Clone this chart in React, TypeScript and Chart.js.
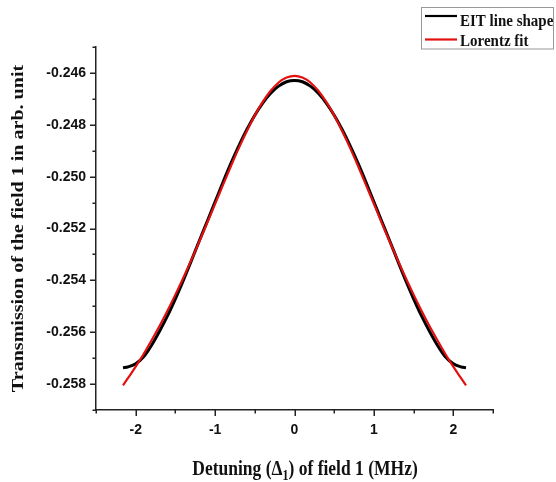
import React, { useEffect, useRef } from 'react';
import { Chart, registerables } from 'chart.js';

Chart.register(...registerables);

// Detuning (MHz)
const detuning = [
  -2.16, -2.1, -2.0, -1.9, -1.8, -1.7, -1.6, -1.5, -1.4, -1.3, -1.2, -1.1, -1.0,
  -0.9, -0.8, -0.7, -0.6, -0.5, -0.4, -0.3, -0.2, -0.1, 0,
  0.1, 0.2, 0.3, 0.4, 0.5, 0.6, 0.7, 0.8, 0.9, 1.0, 1.1, 1.2, 1.3, 1.4, 1.5,
  1.6, 1.7, 1.8, 1.9, 2.0, 2.1, 2.16,
];

// EIT line shape (black)
const eitLineShape = [
  -0.25737, -0.25734, -0.25722, -0.25695, -0.2565, -0.25596, -0.25537, -0.25471,
  -0.254, -0.25325, -0.25248, -0.25173, -0.25097, -0.25021, -0.24948, -0.2488,
  -0.24818, -0.24763, -0.24716, -0.24678, -0.24651, -0.24634, -0.24629,
  -0.24634, -0.24651, -0.24678, -0.24716, -0.24763, -0.24818, -0.2488, -0.24948,
  -0.25021, -0.25097, -0.25173, -0.25248, -0.25325, -0.254, -0.25471, -0.25537,
  -0.25596, -0.2565, -0.25695, -0.25722, -0.25734, -0.25737,
];

// Lorentz fit (red)
const lorentzFit = [
  -0.25805, -0.25778, -0.25733, -0.25684, -0.25631, -0.25576, -0.25517, -0.25455,
  -0.2539, -0.25322, -0.25251, -0.25179, -0.25105, -0.25032, -0.24959, -0.24889,
  -0.24824, -0.24764, -0.24712, -0.24669, -0.24637, -0.24618, -0.24611,
  -0.24618, -0.24637, -0.24669, -0.24712, -0.24764, -0.24824, -0.24889, -0.24959,
  -0.25032, -0.25105, -0.25179, -0.25251, -0.25322, -0.2539, -0.25455, -0.25517,
  -0.25576, -0.25631, -0.25684, -0.25733, -0.25778, -0.25805,
];

const xRange = [-2.5, 2.5];
const yRange = [-0.259, -0.245];
const xStep = 0.5;
const yStep = 0.001;

const seriesNames = ['EIT line shape', 'Lorentz fit'];
const xTitle = ['Detuning (\u0394', '1', ') of field 1 (MHz)'];
const yTitle = 'Transmission of the field 1 in arb. unit';

const isMajorX = (v: number) => Math.abs(v - Math.round(v)) < 1e-6;
const isMajorY = (v: number) => Math.round(Math.abs(v) * 1000) % 2 === 0;

const decor = {
  id: 'decor',
  afterDraw(chart: any) {
    const ctx = chart.ctx as CanvasRenderingContext2D;
    const xs = chart.scales.x;
    const ys = chart.scales.y;
    const area = chart.chartArea;
    ctx.save();
    // tick marks (major long, minor short), outward
    ctx.strokeStyle = '#222';
    ctx.lineWidth = 1.5;
    ctx.beginPath();
    for (const t of xs.ticks) {
      const px = Math.round(xs.getPixelForValue(t.value)) + 0.25;
      const len = isMajorX(t.value) ? 6 : 3.5;
      ctx.moveTo(px, area.bottom);
      ctx.lineTo(px, area.bottom + len);
    }
    for (const t of ys.ticks) {
      const py = Math.round(ys.getPixelForValue(t.value)) + 0.25;
      const len = isMajorY(t.value) ? 6 : 3.5;
      ctx.moveTo(area.left, py);
      ctx.lineTo(area.left - len, py);
    }
    ctx.stroke();

    // x title with subscript
    ctx.fillStyle = '#111';
    const mainFont = 'bold 17.5px "Liberation Serif"';
    const subFont = 'bold 12px "Liberation Serif"';
    const yFont = 'bold 17px "Liberation Serif"';
    ctx.font = mainFont;
    const w1 = ctx.measureText(xTitle[0]).width;
    const w3 = ctx.measureText(xTitle[2]).width;
    ctx.font = subFont;
    const w2 = ctx.measureText(xTitle[1]).width;
    const total = w1 + w2 + w3;
    const cx = 305;
    const baseY = 475;
    ctx.save();
    ctx.translate(cx - total / 2, baseY);
    ctx.scale(1, 1.18);
    ctx.textBaseline = 'alphabetic';
    ctx.textAlign = 'left';
    ctx.font = mainFont;
    ctx.fillText(xTitle[0], 0, 0);
    ctx.font = subFont;
    ctx.fillText(xTitle[1], w1, 4.5);
    ctx.font = mainFont;
    ctx.fillText(xTitle[2], w1 + w2, 0);
    ctx.restore();

    // y title
    ctx.save();
    ctx.translate(22.5, (area.top + area.bottom) / 2);
    ctx.rotate(-Math.PI / 2);
    ctx.scale(1.18, 1);
    ctx.font = yFont;
    ctx.textAlign = 'center';
    ctx.textBaseline = 'alphabetic';
    ctx.fillText(yTitle, 0, 0);
    ctx.restore();

    // legend
    ctx.fillStyle = '#fff';
    ctx.fillRect(421.5, 7.5, 132, 41.5);
    ctx.strokeStyle = '#999';
    ctx.lineWidth = 1;
    ctx.strokeRect(421.5, 7.5, 132, 41.5);
    const rows = [
      { color: '#000', lineY: 16, baseY: 26, name: seriesNames[0] },
      { color: '#e31010', lineY: 39.5, baseY: 46, name: seriesNames[1] },
    ];
    for (const r of rows) {
      ctx.strokeStyle = r.color;
      ctx.lineWidth = 2.2;
      ctx.beginPath();
      ctx.moveTo(425, r.lineY);
      ctx.lineTo(457, r.lineY);
      ctx.stroke();
      ctx.save();
      ctx.translate(460, r.baseY);
      ctx.scale(1, 1.18);
      ctx.fillStyle = '#111';
      ctx.font = 'bold 15px "Liberation Serif"';
      ctx.textAlign = 'left';
      ctx.textBaseline = 'alphabetic';
      ctx.fillText(r.name, 0, 0);
      ctx.restore();
    }
    ctx.restore();
  },
};

export default function App() {
  const ref = useRef<HTMLCanvasElement | null>(null);
  useEffect(() => {
    if (!ref.current) return;
    const chart = new Chart(ref.current, {
      type: 'scatter',
      data: {
        datasets: [
          {
            label: seriesNames[0],
            data: detuning.map((x, i) => ({ x, y: eitLineShape[i] })),
            showLine: true,
            borderColor: '#000',
            borderWidth: 3,
            pointRadius: 0,
            cubicInterpolationMode: 'monotone',
            order: 1,
          },
          {
            label: seriesNames[1],
            data: detuning.map((x, i) => ({ x, y: lorentzFit[i] })),
            showLine: true,
            borderColor: '#e31010',
            borderWidth: 2.2,
            pointRadius: 0,
            cubicInterpolationMode: 'monotone',
            order: 0,
          },
        ],
      },
      options: {
        responsive: false,
        animation: false,
        devicePixelRatio: 1,
        layout: { padding: { top: 47, right: 63, left: 0, bottom: 0 } },
        plugins: { legend: { display: false }, tooltip: { enabled: false } },
        scales: {
          x: {
            type: 'linear',
            min: xRange[0],
            max: xRange[1],
            afterFit: (s: any) => { s.height = 72; },
            ticks: {
              stepSize: xStep,
              autoSkip: false,
              maxRotation: 0,
              padding: 6,
              color: '#111',
              font: { family: 'Liberation Sans', size: 14, weight: 'bold' },
              callback: (v: any) => (isMajorX(Number(v)) ? String(Math.round(Number(v))) : ''),
            },
            grid: { drawOnChartArea: false, drawTicks: true, tickLength: 6, tickColor: 'rgba(0,0,0,0)' },
            border: { display: true, color: '#222', width: 1.5 },
          },
          y: {
            type: 'linear',
            min: yRange[0],
            max: yRange[1],
            afterFit: (s: any) => { s.width = 96; },
            ticks: {
              stepSize: yStep,
              autoSkip: false,
              padding: 4,
              color: '#111',
              font: { family: 'Liberation Sans', size: 14, weight: 'bold' },
              callback: (v: any) => (isMajorY(Number(v)) ? Number(v).toFixed(3) : ''),
            },
            grid: { drawOnChartArea: false, drawTicks: true, tickLength: 6, tickColor: 'rgba(0,0,0,0)' },
            border: { display: true, color: '#222', width: 1.5 },
          },
        },
      },
      plugins: [decor],
    } as any);
    return () => chart.destroy();
  }, []);
  return (
    <div style={{ position: 'fixed', left: 0, top: 0, width: 556, height: 482, background: '#fff' }}>
      <canvas ref={ref} width={556} height={482} />
    </div>
  );
}
